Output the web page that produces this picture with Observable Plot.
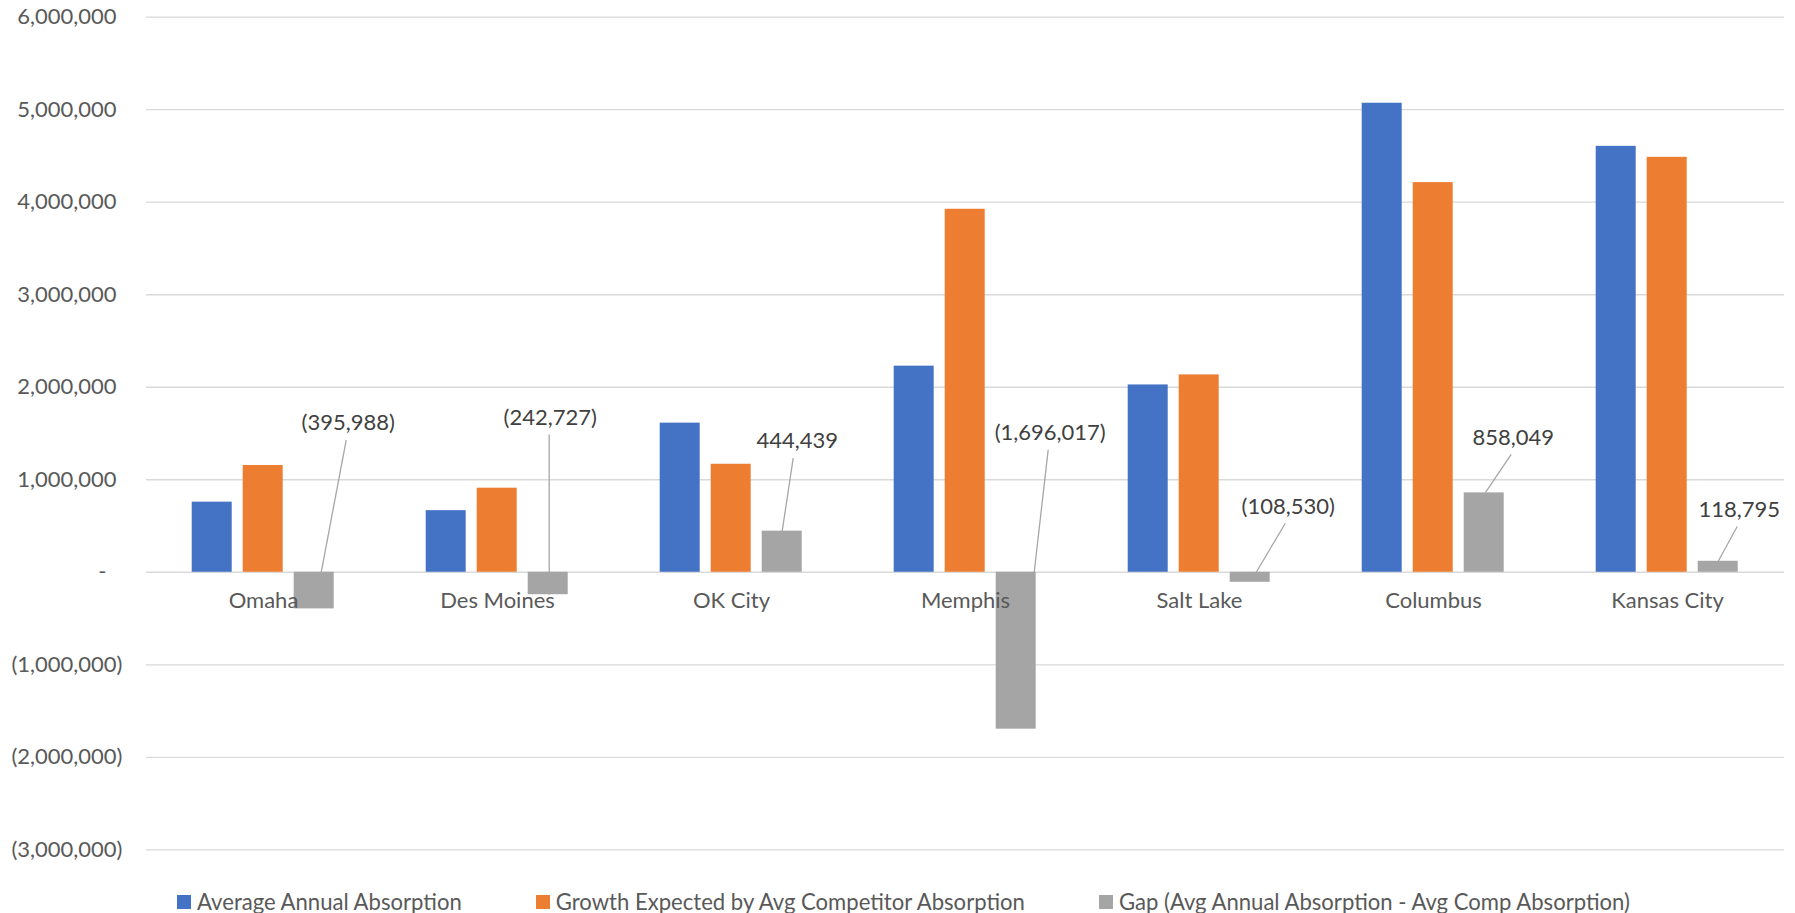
<!DOCTYPE html>
<html>
<head>
<meta charset="utf-8">
<script src="https://cdn.jsdelivr.net/npm/d3@7"></script>
<script src="https://cdn.jsdelivr.net/npm/@observablehq/plot@0.6"></script>
<style>
  html, body { margin: 0; padding: 0; background: #fff; overflow: hidden; }
  #chart svg { display: block; }
  #legend { display: flex; justify-content: center; align-items: flex-start; box-sizing: border-box;
    height: 43px; padding-top: 19px; padding-left: 12px; font-family: Lato, sans-serif; font-size: 22.1px; color: #595959; line-height: 25px; }
  .item { display: flex; align-items: center; margin: 0 37px; white-space: nowrap; }
  .sw { width: 14px; height: 14px; margin-right: 6px; display: inline-block; }
</style>
</head>
<body>
<div id="chart"></div>
<div id="legend"></div>
<script>
// ---- data ----
const categories = ["Omaha", "Des Moines", "OK City", "Memphis", "Salt Lake", "Columbus", "Kansas City"];
const seriesNames = [
  "Average Annual Absorption",
  "Growth Expected by Avg Competitor Absorption",
  "Gap (Avg Annual Absorption - Avg Comp Absorption)"
];
const avgAnnual      = [758000, 666000, 1612000, 2228000, 2025000, 5070000, 4604000];
const growthExpected = [1153988, 908727, 1167561, 3924017, 2133530, 4211951, 4485205];
const gapValues      = [-395988, -242727, 444439, -1696017, -108530, 858049, 118795];
const yTicks = [-3000000, -2000000, -1000000, 0, 1000000, 2000000, 3000000, 4000000, 5000000, 6000000];
const colors = ["#4472C4", "#ED7D31", "#A5A5A5"];

// ---- data-label placement (annotation layout, Excel dragged labels) ----
const labelY       = [1612000, 1673000, 1417000, 1508000, 711000, 1457000, 678000];
const labelDx      = [34, 2, 15, 34, 38, 29, 21];
const leaderTopDx  = [32, 1, 11, 32, 35, 27, 19];
const leaderEndDx  = [7, 1, 0, 18, 6, 1, 0];
const leaderToZero = [true, false, false, true, true, false, false];

// ---- tables ----
const seriesValues = [avgAnnual, growthExpected, gapValues];
const rows = categories.flatMap((c, i) =>
  seriesNames.map((s, k) => ({category: c, series: s, value: seriesValues[k][i]})));
const gapRows = categories.map((c, i) => ({
  category: c, series: seriesNames[2], value: gapValues[i], labelY: labelY[i],
  end: leaderToZero[i] ? 0 : gapValues[i]
}));

const fmtNum = d3.format(",");
const fmtAcc = v => v > 0 ? fmtNum(v) : v < 0 ? `(${fmtNum(-v)})` : "-";
const FS = 22;

const plot = Plot.plot({
  width: 1795,
  height: 870,
  marginLeft: 144.3,
  marginRight: 10,
  marginTop: 16.7,
  marginBottom: 20.7,
  style: {fontFamily: "Lato, sans-serif", fontSize: FS + "px", color: "#595959", background: "#fff"},
  fx: {domain: categories, padding: 0, axis: null, label: null},
  x: {domain: seriesNames, paddingInner: 0.213, paddingOuter: 0.873, axis: null},
  y: {domain: [-3000000, 6000000], axis: null},
  color: {domain: seriesNames, range: colors},
  marks: [
    Plot.gridY(yTicks, {stroke: "#d9d9d9", strokeOpacity: 1, strokeWidth: 1.3}),
    Plot.axisY(yTicks.filter(v => v > 0), {tickSize: 0, tickPadding: 30, tickFormat: fmtAcc, fontSize: FS, label: null}),
    Plot.axisY(yTicks.filter(v => v < 0), {tickSize: 0, tickPadding: 24, tickFormat: fmtAcc, fontSize: FS, label: null}),
    Plot.axisY(yTicks.filter(v => v === 0), {tickSize: 0, tickPadding: 40, tickFormat: fmtAcc, fontSize: FS, label: null}),
    Plot.barY(rows, {fx: "category", x: "series", y: "value", fill: "series"}),
    Plot.text(categories, {fx: d => d, text: d => d, y: () => 0, dy: 29, fill: "#595959", fontSize: FS}),
    Plot.link(gapRows, {
      fx: "category", x1: "series", x2: "series", y1: "end", y2: "labelY",
      stroke: "#a6a6a6", strokeWidth: 1.3,
      render(index, scales, values, dimensions, context, next) {
        const x1 = Float64Array.from(values.x1, (v, i) => v + leaderEndDx[i]);
        const x2 = Float64Array.from(values.x2, (v, i) => v + leaderTopDx[i]);
        const y2 = Float64Array.from(values.y2, v => v + 17);
        return next(index, scales, {...values, x1, x2, y2}, dimensions, context);
      }
    }),
    Plot.text(gapRows, {
      fx: "category", x: "series", y: "labelY", text: d => fmtAcc(d.value),
      fill: "#404040", fontSize: FS,
      render(index, scales, values, dimensions, context, next) {
        const x = Float64Array.from(values.x, (v, i) => v + labelDx[i]);
        return next(index, scales, {...values, x}, dimensions, context);
      }
    })
  ]
});
document.getElementById("chart").appendChild(plot);

const legend = document.getElementById("legend");
seriesNames.forEach((s, k) => {
  const item = document.createElement("div");
  item.className = "item";
  const sw = document.createElement("span");
  sw.className = "sw";
  sw.style.background = colors[k];
  const t = document.createElement("span");
  t.textContent = s;
  item.appendChild(sw);
  item.appendChild(t);
  legend.appendChild(item);
});
</script>
</body>
</html>
